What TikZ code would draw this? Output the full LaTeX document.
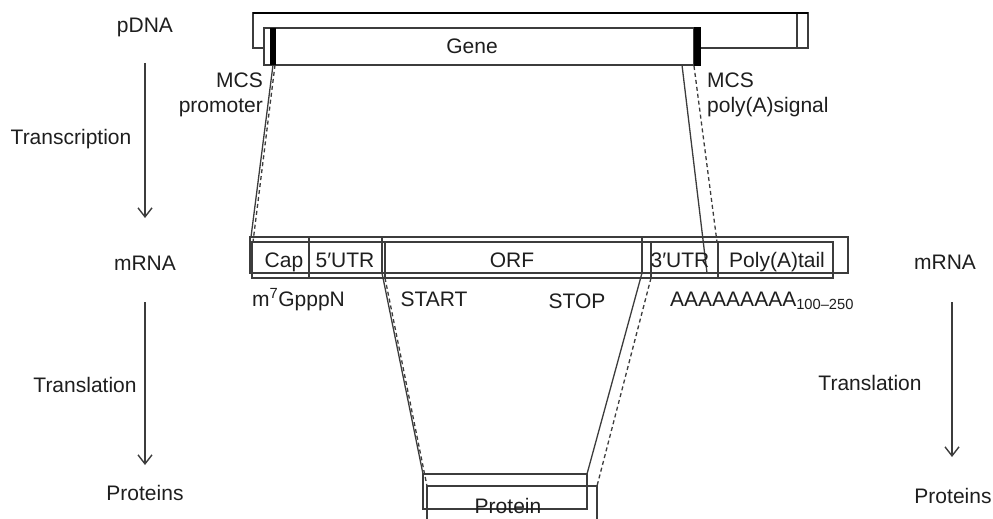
\documentclass[tikz,border=0pt]{standalone}
\usepackage{fontspec}
\setmainfont{Liberation Sans}
\usetikzlibrary{arrows.meta}
\definecolor{linegray}{HTML}{3C3C3C}
\definecolor{textgray}{HTML}{1E1E1E}

\begin{document}
\begin{tikzpicture}[x=1pt,y=-1pt,
	lbl/.style={inner sep=0pt,anchor=base,text=textgray,font=\fontsize{21}{24}\selectfont},
	box/.style={draw=linegray,line width=1.5pt},
	flow/.style={draw=linegray,line width=1.4pt,-{Straight Barb[length=9pt,width=14pt]}},
	link/.style={draw=linegray,line width=1.3pt},
	dlink/.style={draw=linegray,line width=1.3pt,dash pattern=on 4pt off 3pt}]

	\useasboundingbox (0,0) rectangle (993,519);

	% pDNA
	\draw[box] (253,13) rectangle (808,48);
	\draw[box] (797,13) -- (797,48);
	\draw[line width=2pt,black] (253,13) -- (808,13);
	\draw[box,fill=white] (264,28) rectangle (694,65);
	\fill[black] (270,28) rectangle (276,65);
	\fill[black] (694,27) rectangle (701,66);

	% mRNA
	\draw[box] (250,237) rectangle (848,273);
	\draw[box] (252,242) rectangle (833,278);
	\draw[box] (309,237) -- (309,278);
	\draw[box] (382,237) -- (382,273);
	\draw[box] (385,242) -- (385,278);
	\draw[box] (642,237) -- (642,273);
	\draw[box] (651,242) -- (651,278);
	\draw[box] (718,242) -- (718,278);

	% protein
	\draw[box] (423,474) rectangle (587,509);
	\draw[box] (427,519) |- (597,486) -- (597,519);

	\coordinate (pl1) at (273,65);
	\coordinate (pl2) at (275,65);
	\coordinate (pr1) at (682,65);
	\coordinate (pr2) at (694,66);
	\coordinate (ml1) at (251,237);
	\coordinate (ml2) at (253,242);
	\coordinate (mr1) at (707,273);
	\coordinate (mr2) at (717,242);
	\coordinate (ms1) at (382,273);
	\coordinate (ms2) at (385,278);
	\coordinate (me1) at (642,273);
	\coordinate (me2) at (651,278);
	\coordinate (ps1) at (423,474);
	\coordinate (ps2) at (427,486);
	\coordinate (pe1) at (587,474);
	\coordinate (pe2) at (597,486);

	\path[link] (pl1) edge (ml1);
	\path[dlink] (pl2) edge (ml2);
	\path[link] (pr1) edge (mr1);
	\path[dlink] (pr2) edge (mr2);
	\path[link] (ms1) edge (ps1);
	\path[dlink] (ms2) edge (ps2);
	\path[link] (me1) edge (pe1);
	\path[dlink] (me2) edge (pe2);

	\coordinate (ta) at (145,63);
	\coordinate (tb) at (145,218);
	\coordinate (la) at (145,302);
	\coordinate (lb) at (145,465);
	\coordinate (ra) at (952,302);
	\coordinate (rb) at (952,457);

	\draw[flow] (ta) -- (tb);
	\draw[flow] (la) -- (lb);
	\draw[flow] (ra) -- (rb);

	\node[lbl] (pdna) at (145,33) {pDNA};
	\node[lbl] (transcr) at (71,144) {Transcription};
	\node[lbl] (mrnal) at (145,270) {mRNA};
	\node[lbl] (transll) at (85,392) {Translation};
	\node[lbl] (protl) at (145,500) {Proteins};
	\node[lbl] (mrnar) at (945,269) {mRNA};
	\node[lbl] (translr) at (870,390) {Translation};
	\node[lbl] (protr) at (953,503) {Proteins};

	\node[lbl] (gene) at (472,54) {Gene};
	\node[lbl,anchor=base east] (mcsl) at (263,88) {MCS};
	\node[lbl,anchor=base east] (prom) at (263,112) {promoter};
	\node[lbl,anchor=base west] (mcsr) at (707,88) {MCS};
	\node[lbl,anchor=base west] (pas) at (707,112) {poly(A)signal};

	\node[lbl] (cap) at (284,267) {Cap};
	\node[lbl] (utr5) at (345,267) {5′UTR};
	\node[lbl] (orf) at (512,267) {ORF};
	\node[lbl] (utr3) at (680,267) {3′UTR};
	\node[lbl] (tail) at (777,267) {Poly(A)tail};

	\node[lbl,anchor=base west] (gppp) at (252,306) {m\textsuperscript{7}GpppN};
	\node[lbl] (start) at (434,306) {START};
	\node[lbl] (stop) at (577,308) {STOP};
	\node[lbl,anchor=base west] (polya) at (670,306) {AAAAAAAAA\textsubscript{100–250}};

	\node[lbl] (prot) at (508,513) {Protein};
\end{tikzpicture}
\end{document}
